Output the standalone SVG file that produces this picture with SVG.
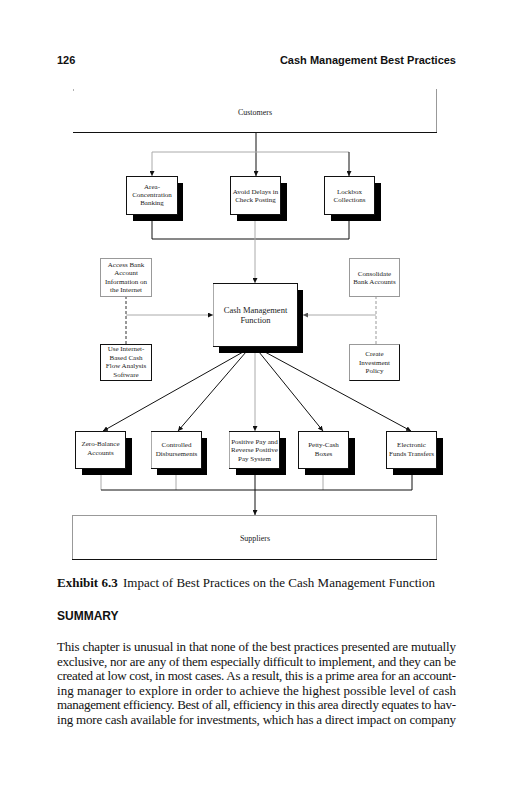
<svg xmlns="http://www.w3.org/2000/svg" width="531" height="800" viewBox="0 0 531 800">
<defs>
<style>
.hdr{font-family:"Liberation Sans",Arial,sans-serif;font-weight:bold;font-size:11px;fill:#111}
.bx{font-family:"Liberation Serif","Times New Roman",serif;font-size:7px;fill:#222;text-anchor:middle}
.bxl{font-family:"Liberation Serif","Times New Roman",serif;font-size:8.5px;fill:#222;text-anchor:middle}
.cap{font-family:"Liberation Serif","Times New Roman",serif;font-size:13px;fill:#111}
.body{font-family:"Liberation Serif","Times New Roman",serif;font-size:13px;fill:#111}
.box{fill:#fff;stroke:#111;stroke-width:1}
.gbox{fill:#fff;stroke:#999;stroke-width:1}
.sh{fill:#000}
.k{stroke:#111;stroke-width:1;fill:none}
.g{stroke:#aaa;stroke-width:1;fill:none}
.dk{stroke:#333;stroke-width:1;fill:none;stroke-dasharray:3,2}
.dg{stroke:#999;stroke-width:1;fill:none;stroke-dasharray:3,2}
</style>
<marker id="ak" viewBox="0 0 6 6" refX="6" refY="3" markerWidth="5" markerHeight="5" markerUnits="userSpaceOnUse" orient="auto"><path d="M0,0 L6,3 L0,6 Z" fill="#111"/></marker>
<marker id="ag" viewBox="0 0 6 6" refX="6" refY="3" markerWidth="5" markerHeight="5" markerUnits="userSpaceOnUse" orient="auto"><path d="M0,0 L6,3 L0,6 Z" fill="#555"/></marker>
</defs>
<rect width="531" height="800" fill="#fff"/>
<text class="hdr" x="57" y="64">126</text>
<text class="hdr" x="456" y="64" text-anchor="end">Cash Management Best Practices</text>

<g id="connectors">
<line class="k" x1="256" y1="132" x2="256" y2="176" marker-end="url(#ak)"/>
<line class="g" x1="152" y1="152" x2="349" y2="152"/>
<line class="g" x1="152" y1="152" x2="152" y2="176" marker-end="url(#ak)"/>
<line class="k" x1="349" y1="152" x2="349" y2="176" marker-end="url(#ak)"/>
<polyline class="k" points="152,214 152,239 349,239 349,214"/>
<line class="g" x1="255" y1="214" x2="255" y2="283" marker-end="url(#ak)"/>
<line class="g" x1="126" y1="315" x2="213" y2="315" marker-end="url(#ak)"/>
<line class="g" x1="376" y1="315" x2="303" y2="315" marker-end="url(#ag)"/>
<line class="dk" x1="126" y1="296" x2="126" y2="344"/>
<line class="dg" x1="376" y1="296" x2="376" y2="344"/>
<line class="k" x1="243" y1="352" x2="103" y2="431" marker-end="url(#ak)"/>
<line class="k" x1="246" y1="352" x2="178" y2="431" marker-end="url(#ak)"/>
<line class="g" x1="255" y1="353" x2="255" y2="431" marker-end="url(#ak)"/>
<line class="k" x1="259" y1="352" x2="323" y2="431" marker-end="url(#ak)"/>
<line class="k" x1="265" y1="352" x2="411" y2="431" marker-end="url(#ak)"/>
<line class="g" x1="101" y1="468" x2="101" y2="490"/>
<line class="g" x1="176" y1="468" x2="176" y2="490"/>
<line class="k" x1="255" y1="468" x2="255" y2="490"/>
<line class="g" x1="323" y1="468" x2="323" y2="490"/>
<line class="k" x1="412" y1="468" x2="412" y2="490"/>
<line class="k" x1="101" y1="490" x2="412" y2="490"/>
<line class="k" x1="255" y1="490" x2="255" y2="515" marker-end="url(#ak)"/>
</g>

<g id="customers">
<rect x="73" y="90" width="363" height="42" fill="#fff"/>
<rect x="73" y="89.5" width="1" height="1" fill="#666"/>
<line x1="436.5" y1="89" x2="436.5" y2="132" stroke="#999"/>
<line x1="73" y1="132.5" x2="437" y2="132.5" stroke="#111"/>
<text class="bxl" x="255" y="115" style="font-size:8px">Customers</text>
</g>

<g id="area-concentration">
<rect class="sh" x="133" y="183" width="50" height="38"/>
<rect class="box" x="126.5" y="176.5" width="51" height="38"/>
<text class="bx" x="152" y="189">Area-</text>
<text class="bx" x="152" y="197">Concentration</text>
<text class="bx" x="152" y="205">Banking</text>
</g>
<g id="avoid-delays">
<rect class="sh" x="237" y="183" width="50" height="38"/>
<rect class="box" x="230.5" y="176.5" width="50" height="38"/>
<text class="bx" x="255.5" y="194">Avoid Delays in</text>
<text class="bx" x="255.5" y="202">Check Posting</text>
</g>
<g id="lockbox">
<rect class="sh" x="331" y="183" width="50" height="38"/>
<rect class="box" x="324.5" y="176.5" width="50" height="38"/>
<text class="bx" x="349.5" y="194">Lockbox</text>
<text class="bx" x="349.5" y="202">Collections</text>
</g>

<g id="access-bank">
<rect class="gbox" x="100.5" y="258.5" width="51" height="38"/>
<text class="bx" x="126" y="266.5">Access Bank</text>
<text class="bx" x="126" y="275">Account</text>
<text class="bx" x="126" y="283.5">Information on</text>
<text class="bx" x="126" y="292">the Internet</text>
</g>
<g id="consolidate">
<rect class="gbox" x="349.5" y="258.5" width="50" height="38"/>
<text class="bx" x="374.5" y="275.5">Consolidate</text>
<text class="bx" x="374.5" y="284">Bank Accounts</text>
</g>
<g id="cash-management">
<rect class="sh" x="219" y="290" width="84" height="63"/>
<rect class="box" x="213.5" y="283.5" width="84" height="63"/>
<line x1="213.5" y1="284" x2="213.5" y2="346" stroke="#aaa"/>
<text class="bxl" x="255.5" y="313">Cash Management</text>
<text class="bxl" x="255.5" y="322.5">Function</text>
</g>
<g id="use-internet">
<rect class="box" x="100.5" y="344.5" width="51" height="36"/>
<text class="bx" x="126" y="351">Use Internet-</text>
<text class="bx" x="126" y="359.5">Based Cash</text>
<text class="bx" x="126" y="368">Flow Analysis</text>
<text class="bx" x="126" y="376.5">Software</text>
</g>
<g id="create-investment">
<rect class="gbox" x="349.5" y="344.5" width="50" height="36"/>
<polyline points="399.5,344.5 399.5,380.5 349.5,380.5" fill="none" stroke="#111"/>
<text class="bx" x="374.5" y="356">Create</text>
<text class="bx" x="374.5" y="364.5">Investment</text>
<text class="bx" x="374.5" y="373">Policy</text>
</g>

<g id="zero-balance">
<rect class="sh" x="82" y="438" width="50" height="37"/>
<rect class="box" x="75.5" y="431.5" width="50" height="37"/>
<text class="bx" x="100.5" y="446">Zero-Balance</text>
<text class="bx" x="100.5" y="454.5">Accounts</text>
</g>
<g id="controlled">
<rect class="sh" x="157" y="438" width="50" height="37"/>
<rect class="box" x="151.5" y="431.5" width="50" height="37"/>
<line x1="151.5" y1="432" x2="151.5" y2="468" stroke="#aaa"/>
<text class="bx" x="176.5" y="447">Controlled</text>
<text class="bx" x="176.5" y="455.5">Disbursements</text>
</g>
<g id="positive-pay">
<rect class="sh" x="236" y="438" width="50" height="37"/>
<rect class="box" x="229.5" y="431.5" width="50" height="37"/>
<line x1="229.5" y1="432" x2="229.5" y2="468" stroke="#aaa"/>
<text class="bx" x="254.5" y="443.5">Positive Pay and</text>
<text class="bx" x="254.5" y="452">Reverse Positive</text>
<text class="bx" x="254.5" y="460.5">Pay System</text>
</g>
<g id="petty-cash">
<rect class="sh" x="305" y="438" width="50" height="37"/>
<rect class="box" x="298.5" y="431.5" width="50" height="37"/>
<text class="bx" x="323.5" y="447">Petty-Cash</text>
<text class="bx" x="323.5" y="455.5">Boxes</text>
</g>
<g id="electronic-funds">
<rect class="sh" x="393" y="438" width="50" height="37"/>
<rect class="box" x="386.5" y="431.5" width="50" height="37"/>
<text class="bx" x="411.5" y="447">Electronic</text>
<text class="bx" x="411.5" y="455.5">Funds Transfers</text>
</g>

<g id="suppliers">
<rect class="gbox" x="72.5" y="515.5" width="364" height="44"/>
<line x1="72" y1="559.5" x2="437" y2="559.5" stroke="#111"/>
<text class="bxl" x="255" y="541" style="font-size:8px">Suppliers</text>
</g>

<text class="cap" x="57" y="587"><tspan font-weight="bold">Exhibit 6.3</tspan><tspan x="123">Impact of Best Practices on the Cash Management Function</tspan></text>
<text class="hdr" x="57" y="620" style="font-size:12px">SUMMARY</text>
<g class="body">
<text x="57" y="651" textLength="399" lengthAdjust="spacing">This chapter is unusual in that none of the best practices presented are mutually</text>
<text x="57" y="665.5" textLength="399" lengthAdjust="spacing">exclusive, nor are any of them especially difficult to implement, and they can be</text>
<text x="57" y="680" textLength="399" lengthAdjust="spacing">created at low cost, in most cases. As a result, this is a prime area for an account-</text>
<text x="57" y="694.5" textLength="399" lengthAdjust="spacing">ing manager to explore in order to achieve the highest possible level of cash</text>
<text x="57" y="709" textLength="399" lengthAdjust="spacing">management efficiency. Best of all, efficiency in this area directly equates to hav-</text>
<text x="57" y="724" textLength="399" lengthAdjust="spacing">ing more cash available for investments, which has a direct impact on company</text>
</g>
</svg>
